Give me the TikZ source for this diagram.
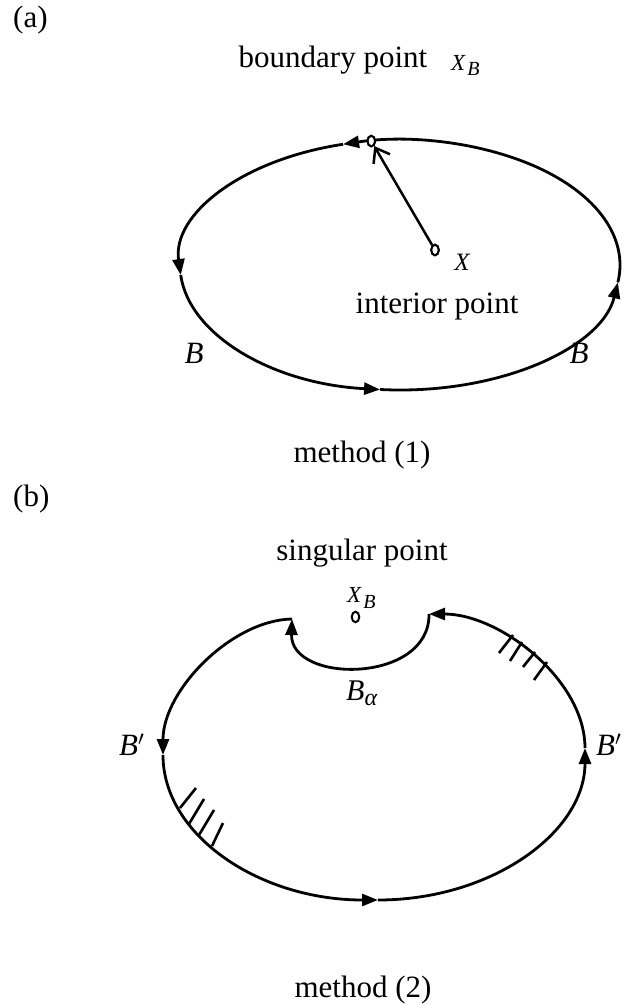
\documentclass[tikz,border=0pt]{standalone}
\usepackage{fontspec}
\setmainfont{Liberation Serif}
\usetikzlibrary{arrows.meta,shapes.geometric,calc}
\begin{document}
\begin{tikzpicture}[x=1pt,y=1pt,
  curve/.style={line width=2.8pt},
  tipend/.style={-{Triangle[length=16pt,width=12pt]}},
  txt/.style={font=\fontsize{31}{36}\selectfont, inner sep=0pt, anchor=base},
  lbl/.style={font=\fontsize{31}{36}\selectfont\itshape, inner sep=0pt, anchor=base west},
  dot/.style={draw, ellipse, line width=2pt, fill=white, minimum width=7.5pt, minimum height=10.5pt, inner sep=0pt},
  hatch/.style={line width=2.6pt}]
\useasboundingbox (0,0) rectangle (634,-1005);

% ---------- (a) ----------
\node[txt, anchor=base west] (la) at (13,-27) {(a)};
\node[txt] (tbp) at (333,-67) {boundary point};
\node[inner sep=0pt, anchor=base west] (xb1) at (451,-70) {\fontsize{23}{24}\selectfont\itshape X\kern2pt\raisebox{-5pt}{\fontsize{20}{20}\selectfont B}};

\coordinate (c1) at (400,-265);
\draw[curve,tipend] ($(c1)+(-8:220 and 125)$) arc[start angle=-8,end angle=105,x radius=220,y radius=125];
\draw[curve,tipend] ($(c1)+(105:220 and 125)$) arc[start angle=105,end angle=184.6,x radius=220,y radius=125];
\draw[curve,tipend] ($(c1)+(184.6:220 and 125)$) arc[start angle=184.6,end angle=264.8,x radius=220,y radius=125];
\draw[curve,tipend] ($(c1)+(264.8:220 and 125)$) arc[start angle=264.8,end angle=352,x radius=220,y radius=125];

\node[dot] (ip) at (435,-250) {};
\node[dot] (bp) at ($(c1)+(97.5:220 and 125)$) {};
\draw[line width=2.5pt, -{Straight Barb[length=13pt,width=19pt]}] (ip) -- (bp);
\node[dot] at (ip) {};
\node[dot] at (bp) {};

\node[inner sep=0pt, anchor=base] (xi) at (462,-270) {\fontsize{25}{28}\selectfont\itshape X};
\node[txt] (tip) at (437,-313) {interior point};
\node[txt, font=\fontsize{31}{36}\selectfont\itshape] (bl) at (194,-363) {B};
\node[txt, font=\fontsize{31}{36}\selectfont\itshape] (br) at (579,-363) {B};
\node[txt] (m1) at (362,-462) {method (1)};

% ---------- (b) ----------
\node[txt, anchor=base west] (lb) at (13,-506) {(b)};
\node[txt] (tsp) at (362,-560) {singular point};
\node[inner sep=0pt, anchor=base west] (xb2) at (347,-602) {\fontsize{23}{24}\selectfont\itshape X\kern2pt\raisebox{-6pt}{\fontsize{20}{20}\selectfont B}};
\node[dot] (sp) at (355.5,-617) {};

\coordinate (L) at (292,-619);
\coordinate (A) at (163,-755);
\coordinate (Bt) at (378,-900);
\coordinate (Rt) at (585,-748);
\coordinate (R) at (429,-614);
\draw[curve,tipend] (L) .. controls (232,-620) and (163,-690) .. (A);
\draw[curve,tipend] (A) .. controls (163,-835) and (259,-900) .. (Bt);
\draw[curve,tipend] (Bt) .. controls (492,-900) and (585,-832) .. (Rt);
\draw[curve,tipend] (Rt) .. controls (585,-680) and (500,-614) .. (R);
\draw[curve,tipend] (R) .. controls (430,-684) and (290,-684) .. (L);

% hatches
\draw[hatch] (180,-808) -- (196,-788);
\draw[hatch] (189,-824) -- (204,-799);
\draw[hatch] (199,-835) -- (214,-810);
\draw[hatch] (212,-846) -- (223,-823);
\draw[hatch] (513,-635) -- (499,-653);
\draw[hatch] (522,-642) -- (510,-661);
\draw[hatch] (535,-652) -- (523,-667);
\draw[hatch] (547,-662) -- (534,-680);

\node[inner sep=0pt, anchor=base west] (ba) at (346,-700) {\fontsize{30}{32}\selectfont\itshape B\raisebox{-5pt}{\fontsize{24}{26}\selectfont α}};
\node[lbl] (bpl) at (119,-755) {B$'$};
\node[lbl] (bpr) at (596,-755) {B$'$};
\node[txt] (m2) at (363,-997) {method (2)};
\end{tikzpicture}
\end{document}
